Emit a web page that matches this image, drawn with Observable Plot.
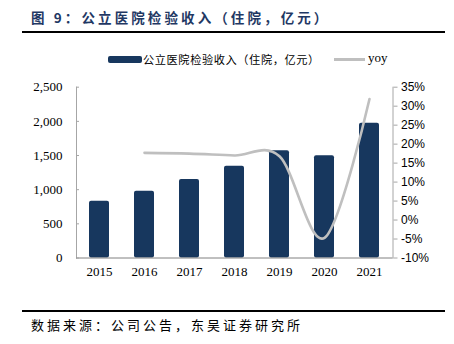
<!DOCTYPE html>
<html>
<head>
<meta charset="utf-8">
<script src="https://cdn.jsdelivr.net/npm/d3@7"></script>
<script src="https://cdn.jsdelivr.net/npm/@observablehq/plot@0.6"></script>
<style>
  html, body { margin: 0; padding: 0; background: #fff; }
  #wrap { position: relative; width: 454px; height: 344px; overflow: hidden; font-family: "Noto Sans CJK SC", sans-serif; }
  .abs { position: absolute; white-space: nowrap; }
  #title { left: 31px; top: 9px; font-size: 13.5px; line-height: 16px; font-weight: bold; color: #1F3864; letter-spacing: 3.1px; }
  #rule1 { left: 22px; top: 31px; width: 423px; height: 1.6px; background: #000; }
  #rule2 { left: 22px; top: 310px; width: 423px; height: 1.6px; background: #000; }
  #source { left: 31px; top: 317px; font-size: 13px; line-height: 16px; color: #000; letter-spacing: 3px; }
  #lg1 { left: 108px; top: 56px; width: 34px; height: 7px; background: #17375E; border-radius: 2px; }
  #lg1t { left: 143px; top: 51px; font-size: 11.2px; line-height: 16px; color: #000; letter-spacing: 0.6px; }
  #lg2 { left: 334px; top: 58px; width: 31px; height: 2.5px; background: #BFBFBF; }
  #lg2t { left: 368px; top: 50px; font-family: "Liberation Serif", serif; font-size: 13px; line-height: 16px; color: #000; }
  #chart { left: 0; top: 70px; }
</style>
</head>
<body>
<div id="wrap">
  <div class="abs" id="title">图 9：公立医院检验收入（住院，亿元）</div>
  <div class="abs" id="rule1"></div>
  <div class="abs" id="lg1"></div>
  <div class="abs" id="lg1t">公立医院检验收入（住院，亿元）</div>
  <div class="abs" id="lg2"></div>
  <div class="abs" id="lg2t">yoy</div>
  <div class="abs" id="chart"></div>
  <div class="abs" id="rule2"></div>
  <div class="abs" id="source">数据来源：公司公告，东吴证券研究所</div>
</div>
<script>
const years = ["2015", "2016", "2017", "2018", "2019", "2020", "2021"];
const revenue = [831, 978, 1149, 1344, 1569, 1496, 1973];
const yoyYears = ["2016", "2017", "2018", "2019", "2020", "2021"];
const yoyValues = [17.7, 17.5, 17.0, 16.8, -4.7, 31.9];
const leftTicks = [0, 500, 1000, 1500, 2000, 2500];
const rightTicks = [-10, -5, 0, 5, 10, 15, 20, 25, 30, 35];

const leftMax = 2500, rMin = -10, rMax = 35;
const toLeft = p => (p - rMin) / (rMax - rMin) * leftMax;
const fromLeft = v => Math.round(v / leftMax * (rMax - rMin) + rMin);

const bars = years.map((y, i) => ({year: y, value: revenue[i]}));
const yoy = yoyYears.map((y, i) => ({year: y, yoy: yoyValues[i]}));

const chart = Plot.plot({
  width: 454,
  height: 220,
  marginTop: 16.7,
  marginBottom: 32.5,
  marginLeft: 76,
  marginRight: 61.5,
  x: {type: "band", domain: years, paddingInner: 0.55, paddingOuter: 0.275, axis: null, label: null},
  y: {domain: [0, leftMax], axis: null, label: null},
  style: {fontFamily: "Liberation Serif, serif", fontSize: "13px", color: "#000", background: "transparent"},
  marks: [
    Plot.frame({anchor: "left", stroke: "#A6A6A6", strokeWidth: 1}),
    Plot.frame({anchor: "right", stroke: "#A6A6A6", strokeWidth: 1}),
    Plot.barY(bars, {x: "year", y: "value", fill: "#17375E", rx: 2}),
    Plot.ruleY([0], {stroke: "#808080", strokeWidth: 1}),
    Plot.axisY({anchor: "left", label: null, ticks: leftTicks, tickFormat: d3.format(","), tickSize: 0, tickPadding: 14,
      fontFamily: "Liberation Serif, serif", fontSize: 13, fill: "#000"}),
    Plot.axisY({anchor: "left", label: null, ticks: leftTicks, tickSize: -3, text: null, stroke: "#A6A6A6"}),
    Plot.axisY({anchor: "right", label: null, ticks: rightTicks.map(toLeft), tickFormat: v => fromLeft(v) + "%",
      tickSize: 4, tickPadding: 4, stroke: "#A6A6A6",
      fontFamily: "Liberation Sans, Arial, sans-serif", fontSize: 12, fill: "#000"}),
    Plot.axisX({anchor: "bottom", label: null, tickSize: 0, tickPadding: 9,
      fontFamily: "Liberation Serif, serif", fontSize: 13, fill: "#000"}),
    Plot.line(yoy, {x: "year", y: d => toLeft(d.yoy), curve: "cardinal", stroke: "#BFBFBF", strokeWidth: 2.6})
  ]
});
document.getElementById("chart").appendChild(chart);
</script>
</body>
</html>
